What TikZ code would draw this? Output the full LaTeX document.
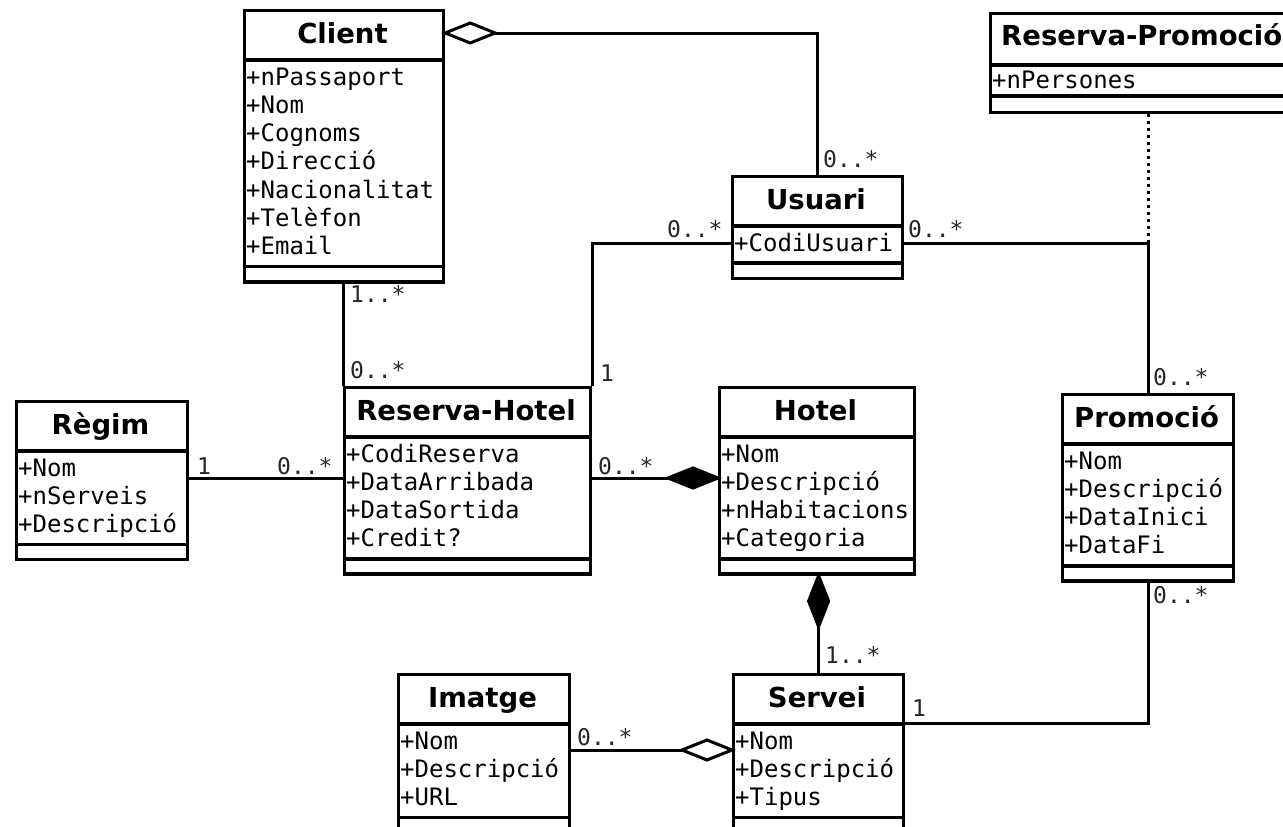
\documentclass[tikz,border=0pt]{standalone}
\usepackage{fontspec}
\newfontfamily\titlefamily{DejaVu Sans}
\newfontfamily\monofamily{DejaVu Sans Mono}
\tikzset{
  border/.style={line width=3.2pt},
  classbox/.style={draw, line width=3.2pt, inner sep=0pt, fill=white},
  titletext/.style={inner sep=0pt, font=\titlefamily\bfseries\fontsize{27.5}{31}\selectfont},
  attrtext/.style={inner sep=0pt, font=\monofamily\fontsize{24}{28}\selectfont},
  mult/.style={inner sep=0pt, font=\monofamily\fontsize{23}{28}\selectfont, text=black!85},
  conn/.style={line width=3pt},
  dotconn/.style={line width=3.2pt, dash pattern=on 3pt off 4pt},
}
% #1 name, #2 left, #3 top, #4 width, #5 rows, #6 title, #7 attributes
\newcommand{\umlclass}[7]{%
  \pgfmathsetmacro\Sy{#3+51}%
  \pgfmathsetmacro\Ay{\Sy+(#5-1)*28.3+37}%
  \pgfmathsetmacro\By{\Ay+13.5}%
  \node[classbox, minimum width=#4pt, minimum height={(\By-#3)*1pt}, anchor=north west] (#1) at (#2,#3) {};
  \draw[border] (#2,\Sy) -- ++(#4,0);
  \draw[border] (#2,\Ay) -- ++(#4,0);
  \node[titletext, anchor=base] (#1-title) at (#2+#4/2,\Sy-16.5) {#6};
  \foreach \a [count=\i from 0] in {#7} {
    \node[attrtext, anchor=base west] (#1-a\i) at (#2+3,\Sy+25+\i*28.3) {\a};
  }
}
\begin{document}
\begin{tikzpicture}[x=1pt,y=-1pt]
\useasboundingbox (0,0) rectangle (1283,827);
\clip (0,0) rectangle (1283,827);
\fill[white] (0,0) rectangle (1283,827);

% classes
\umlclass{client}{243}{9}{199}{7}{Client}{+nPassaport,+Nom,+Cognoms,+Direcció,+Nacionalitat,+Telèfon,+Email}
\umlclass{usuari}{731}{175}{170}{1}{Usuari}{+CodiUsuari}
\umlclass{regim}{15}{400}{171}{3}{Règim}{+Nom,+nServeis,+Descripció}
\umlclass{rhotel}{343}{386}{246}{4}{Reserva-Hotel}{+CodiReserva,+DataArribada,+DataSortida,+Credit?}
\umlclass{hotel}{718}{386}{195}{4}{Hotel}{+Nom,+Descripció,+nHabitacions,+Categoria}
\umlclass{promocio}{1061}{393}{171}{4}{Promoció}{+Nom,+Descripció,+DataInici,+DataFi}
\umlclass{servei}{732}{673}{170}{3}{Servei}{+Nom,+Descripció,+Tipus}
\umlclass{imatge}{397}{673}{171}{3}{Imatge}{+Nom,+Descripció,+URL}

% association class Reserva-Promoció
\node[classbox, minimum width=330pt, minimum height=98.5pt, anchor=north west] (rpromo) at (989,12) {};
\draw[border] (989,65) -- ++(330,0);
\draw[border] (989,96) -- ++(330,0);
\node[titletext, anchor=base west] (rpromo-title) at (1001,45) {Reserva-Promoció};
\node[attrtext, anchor=base west] (rpromo-a0) at (992,88) {+nPersones};

% Client <>-- Usuari (aggregation)
\coordinate (cdt) at (client.east |- 0,33);
\coordinate (cde) at ([xshift=50pt]cdt);
\draw[conn] (cde) -| (usuari.north);
\draw[conn, fill=white] (cdt) -- ++(25,-10) -- (cde) -- ++(-25,10) -- cycle;
\node[mult, anchor=base west] (m1) at (823,167) {0..*};

% Usuari -- Reserva-Hotel
\draw[conn] (usuari.west |- 0,243) -| (rhotel.north east);
\node[mult, anchor=base west] (m2) at (667,237) {0..*};
\node[mult, anchor=base west] (m3) at (600,381) {1};

% Usuari -- Promoció
\coordinate (up) at (promocio.north |- 0,243);
\draw[conn] (usuari.east |- 0,243) -- (up) -- (promocio.north);
\node[mult, anchor=base west] (m4) at (908,237) {0..*};
\node[mult, anchor=base west] (m5) at (1153,385) {0..*};

% association class link
\draw[dotconn] (rpromo.south -| up) -- (up);

% Client -- Reserva-Hotel
\draw[conn] (client.south -| rhotel.north west) -- (rhotel.north west);
\node[mult, anchor=base west] (m6) at (350,302) {1..*};
\node[mult, anchor=base west] (m7) at (350,378) {0..*};

% Règim -- Reserva-Hotel
\draw[conn] (regim.east |- 0,478) -- (rhotel.west |- 0,478);
\node[mult, anchor=base west] (m8) at (197,474) {1};
\node[mult, anchor=base west] (m9) at (277,474) {0..*};

% Reserva-Hotel --<#> Hotel (composition)
\coordinate (hdt) at (hotel.west |- 0,478);
\coordinate (hde) at ([xshift=-50pt]hdt);
\draw[conn] (rhotel.east |- 0,478) -- (hde);
\draw[conn, fill=black] (hdt) -- ++(-25,-10) -- (hde) -- ++(25,10) -- cycle;
\node[mult, anchor=base west] (m10) at (598,474) {0..*};

% Hotel <#>-- Servei (composition)
\coordinate (sdt) at (hotel.south -| servei.north);
\coordinate (sde) at ([yshift=-51pt]sdt);
\draw[conn] (sde) -- (servei.north);
\draw[conn, fill=black] (sdt) -- ++(-10,25.5) -- (sde) -- ++(10,-25.5) -- cycle;
\node[mult, anchor=base west] (m11) at (825,663) {1..*};

% Promoció -- Servei
\draw[conn] (promocio.south) |- (servei.east |- 0,723);
\node[mult, anchor=base west] (m12) at (1153,603) {0..*};
\node[mult, anchor=base west] (m13) at (912,716) {1};

% Imatge --<> Servei (aggregation)
\coordinate (idt) at (servei.west |- 0,750);
\coordinate (ide) at ([xshift=-50pt]idt);
\draw[conn] (imatge.east |- 0,750) -- (ide);
\draw[conn, fill=white] (idt) -- ++(-25,-10) -- (ide) -- ++(25,10) -- cycle;
\node[mult, anchor=base west] (m14) at (577,745) {0..*};
\end{tikzpicture}
\end{document}
